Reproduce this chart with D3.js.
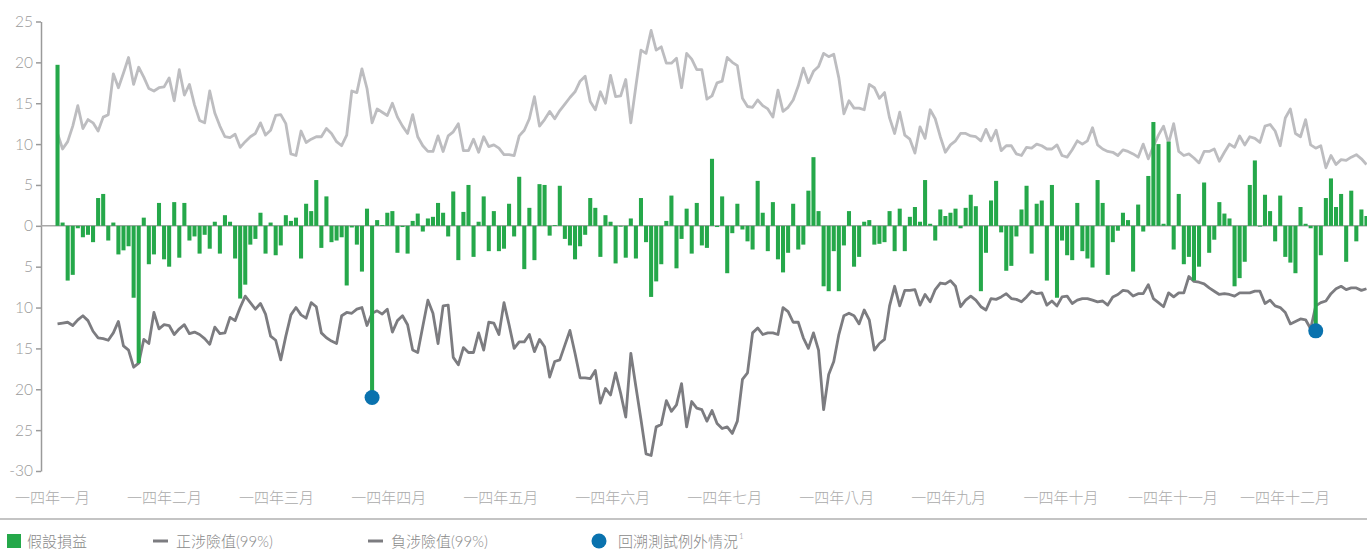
<!DOCTYPE html>
<html><head><meta charset="utf-8">
<script src="https://cdn.jsdelivr.net/npm/d3@7"></script>
<style>
html,body{margin:0;padding:0;background:#fff;}
svg{display:block;font-family:"Lato","Noto Sans CJK TC","Noto Sans",sans-serif;font-weight:300;}
</style></head>
<body><svg id="c" width="1367" height="550"></svg>
<script>
// ---- data ----
const months = ["一四年一月","一四年二月","一四年三月","一四年四月","一四年五月","一四年六月","一四年七月","一四年八月","一四年九月","一四年十月","一四年十一月","一四年十二月"];
const yTicks = [25,20,15,10,5,0,-5,-10,-15,-20,-25,-30];
const yTickLabels = ["25","20","15","10","5","0","5","10","15","20","25","-30"];
const pnl = [19.7,0.4,-6.7,-6.0,-0.3,-1.4,-1.1,-2.0,3.4,3.9,-1.8,0.4,-3.5,-3.0,-2.5,-8.8,-16.8,1.0,-4.7,-3.5,
2.8,-4.1,-5.0,2.9,-3.9,2.8,-1.8,-1.3,-3.4,-1.1,-2.8,0.5,-3.4,1.3,0.5,-4.0,-8.9,-7.2,-2.3,-1.6,
1.6,-3.4,0.4,-3.6,-2.4,1.3,0.6,1.0,-4.0,2.7,1.8,5.6,-2.7,3.6,-2.0,-1.8,-1.4,-7.3,-0.2,-2.3,
-5.6,2.1,-21.0,0.7,0.1,1.6,1.8,-3.3,-0.15,-3.4,0.6,1.5,-0.7,0.9,1.1,2.8,1.6,-1.3,4.2,-4.2,
1.7,5.0,-3.8,0.5,3.6,-3.1,1.8,-3.1,-2.8,2.7,-1.3,6.0,-5.3,2.2,-4.2,5.1,5.0,-1.2,0.1,4.9,
-1.6,-2.4,-4.1,-2.5,-1.1,3.4,2.2,-3.8,1.3,0.5,-4.6,-0.1,-3.9,0.9,-4.0,3.4,-2.0,-8.7,-6.8,-4.7,
0.6,3.7,-5.2,-1.6,2.1,-3.4,2.8,-2.4,-2.7,8.2,-0.15,3.6,-5.8,-0.9,2.7,-0.45,-1.9,-2.9,5.5,1.6,
-3.1,2.9,-4.1,-5.7,-3.3,2.7,-2.9,-2.3,4.3,8.4,1.8,-7.4,-8.0,-3.1,-8.0,-2.4,1.8,-5.0,-3.8,0.5,
0.7,-2.3,-2.2,-2.0,1.8,-3.1,2.1,-3.1,1.1,2.3,0.5,5.6,0.25,-1.8,2.0,1.2,1.6,2.1,-0.3,2.2,
3.8,2.4,-8.0,-3.3,3.1,5.5,-0.8,-5.5,-4.9,-1.3,2.0,4.9,-3.4,2.7,3.1,-6.7,5.0,-8.8,-1.8,-3.6,
-4.2,2.8,-3.1,-4.0,-5.1,5.6,2.8,-6.0,-2.0,-0.6,1.6,0.7,-5.6,2.6,-0.7,6.1,12.7,10.0,0.25,10.3,
-2.9,3.9,-4.7,-3.8,-6.7,-5.0,5.3,-3.3,-1.7,2.9,1.5,0.9,-7.4,-6.4,-4.4,5.0,8.0,-0.1,3.8,1.8,
-1.9,3.7,-3.8,-4.5,-5.8,2.3,0.25,-0.3,-12.85,-3.6,3.4,5.8,2.3,3.9,-4.4,4.3,-1.9,2.0,1.2];
const posVaR = [11.3,9.4,10.3,12.2,14.7,11.9,13.0,12.6,11.6,13.3,13.6,18.6,16.9,18.7,20.6,17.3,19.4,18.2,16.8,16.5,
16.9,17.0,18.1,15.3,19.1,16.0,17.3,14.8,12.9,12.6,16.5,13.8,12.2,10.9,10.8,11.2,9.6,10.3,10.9,11.3,
12.6,11.1,11.7,13.5,13.6,12.5,8.8,8.6,11.6,10.2,10.6,10.9,10.9,11.9,11.3,10.3,9.8,11.1,16.5,16.3,
19.2,16.8,12.6,14.3,13.9,13.5,15.0,13.3,12.2,11.3,13.6,10.9,9.8,9.1,9.1,11.0,9.1,11.0,11.5,12.5,
9.2,9.2,10.6,9.0,10.9,9.7,9.9,9.5,8.7,8.7,8.6,11.0,11.7,13.1,15.8,12.2,13.0,14.0,13.1,14.1,
14.9,15.7,16.4,17.7,18.3,15.2,14.2,16.4,15.0,18.4,15.8,15.9,17.9,12.6,17.1,21.5,21.1,23.9,21.5,21.9,
19.9,19.9,20.5,16.9,21.1,20.4,19.1,19.1,15.5,15.9,17.5,17.7,20.6,20.0,19.6,15.6,14.6,14.5,15.4,14.7,
14.3,13.3,16.6,14.0,14.5,15.4,17.1,19.3,17.5,18.9,19.5,21.1,20.7,21.0,18.1,13.7,15.3,14.4,14.4,14.2,
17.3,16.9,15.6,16.3,13.2,11.3,13.9,11.1,10.6,8.9,12.1,10.7,14.2,13.1,10.9,9.0,9.9,10.4,11.3,11.3,
11.0,10.9,10.4,11.8,10.4,11.7,9.2,9.8,9.8,8.8,8.6,9.6,9.5,10.0,9.8,9.4,9.4,9.9,8.6,8.4,
9.3,10.4,10.0,10.4,12.0,9.9,9.4,9.1,9.0,8.6,9.3,9.1,8.8,8.4,10.0,8.2,9.7,11.1,12.2,10.1,
12.5,9.1,8.6,8.8,8.3,7.7,9.1,9.1,9.4,7.9,9.0,10.0,9.6,11.0,9.9,10.9,10.7,10.2,12.2,12.4,
11.6,9.8,13.2,14.3,11.3,10.9,13.0,9.9,9.5,9.8,7.1,8.6,7.5,8.1,8.0,8.4,8.7,8.2,7.5];
const negVaR = [-12.0,-11.9,-11.8,-12.2,-11.5,-11.0,-11.6,-12.9,-13.7,-13.8,-14.0,-13.1,-11.7,-14.7,-15.2,-17.3,-16.8,-13.9,-14.4,-10.6,
-12.6,-12.1,-12.2,-13.3,-12.6,-12.1,-13.2,-13.0,-13.3,-13.8,-14.5,-12.4,-13.2,-13.1,-11.2,-11.6,-10.0,-8.6,-9.4,-10.2,
-9.5,-10.8,-13.5,-14.0,-16.4,-13.5,-10.9,-10.0,-10.9,-11.3,-9.4,-9.9,-13.1,-13.7,-14.1,-14.4,-11.0,-10.6,-10.7,-10.2,
-10.0,-12.2,-10.7,-10.4,-10.8,-10.2,-13.0,-11.6,-11.0,-12.1,-15.2,-15.5,-12.3,-9.1,-10.7,-14.4,-9.8,-9.7,-16.1,-17.0,
-14.9,-15.5,-15.5,-13.1,-15.2,-11.8,-11.9,-13.3,-9.4,-12.1,-15.0,-14.2,-14.2,-13.3,-15.4,-13.9,-14.8,-18.5,-16.6,-16.4,
-14.6,-12.8,-15.6,-18.6,-18.6,-18.7,-17.7,-21.7,-19.9,-20.7,-18.0,-20.5,-23.4,-15.6,-19.7,-23.7,-27.9,-28.1,-24.6,-24.3,
-21.4,-22.7,-21.9,-19.3,-24.6,-21.5,-22.3,-22.5,-23.9,-22.6,-24.2,-24.8,-24.6,-25.4,-23.9,-18.8,-18.0,-13.1,-12.5,-13.3,
-13.1,-13.1,-13.3,-10.0,-10.5,-11.8,-11.8,-13.7,-15.0,-13.1,-15.2,-22.5,-18.2,-16.6,-13.3,-11.0,-10.7,-11.0,-12.0,-10.3,
-11.5,-15.2,-14.4,-13.9,-9.8,-7.4,-9.8,-7.9,-7.9,-7.8,-9.7,-8.4,-9.3,-7.8,-7.0,-7.1,-6.7,-7.4,-9.9,-9.1,
-8.6,-9.1,-9.9,-10.3,-8.9,-9.0,-8.7,-8.3,-8.9,-9.0,-9.3,-8.7,-8.0,-8.3,-8.2,-9.7,-9.2,-9.8,-8.7,-8.6,
-9.5,-9.1,-8.9,-8.9,-9.1,-9.3,-9.2,-9.7,-8.7,-8.4,-7.9,-8.0,-8.6,-8.3,-8.3,-7.2,-8.9,-9.4,-9.9,-8.2,
-8.7,-8.2,-8.2,-6.2,-6.8,-6.9,-7.1,-7.6,-8.0,-8.4,-8.3,-8.4,-8.6,-8.2,-8.2,-8.2,-8.0,-8.0,-9.5,-9.1,
-9.8,-10.0,-10.6,-12.0,-11.7,-11.4,-11.5,-12.6,-9.8,-9.4,-9.2,-8.3,-7.7,-7.4,-7.8,-7.6,-7.6,-7.9,-7.7];
const exceptionDays = [62, 248];
const legendLabels = ["假設損益","正涉險值(99%)","負涉險值(99%)","回溯測試例外情況"];

// ---- chart ----
const svg = d3.select("#c");
const colGreen = "#25a84a", colPos = "#bdbdc0", colNeg = "#7c7c80", colBlue = "#0a72ae", colText = "#9a9a9a";
const n = pnl.length;
const y = d3.scaleLinear().domain([-30, 25]).range([471, 21.5]);
const x = d3.scaleBand().domain(d3.range(n)).range([55.5, 1368.5]).paddingInner(0.2).paddingOuter(0);
const cx = i => x(i) + x.bandwidth() / 2;

// y axis
const yAxis = d3.axisLeft(y).tickValues(yTicks).tickFormat((d, i) => yTickLabels[i]).tickSize(5).tickSizeOuter(0).tickPadding(3);
const ga = svg.append("g").attr("transform", "translate(41,0)").call(yAxis);
ga.select(".domain").attr("stroke", "#9a9a9a").attr("stroke-width", 1.5);
ga.selectAll(".tick line").attr("stroke", "#9a9a9a").attr("stroke-width", 1.5);
ga.selectAll(".tick text").attr("fill", colText).style("font-size", "15.5px").style("font-family", "Lato, sans-serif").style("font-weight", 300);

// zero line
svg.append("line").attr("x1", 41).attr("x2", 1367).attr("y1", y(0)).attr("y2", y(0))
  .attr("stroke", "#a8a8a8").attr("stroke-width", 1.5);

// lines
const line = d3.line().x((d, i) => cx(i)).y(d => y(d));
svg.append("path").datum(posVaR).attr("d", line).attr("fill", "none").attr("stroke", colPos).attr("stroke-width", 2.8).attr("stroke-linejoin", "round");
svg.append("path").datum(negVaR).attr("d", line).attr("fill", "none").attr("stroke", colNeg).attr("stroke-width", 2.8).attr("stroke-linejoin", "round");

// bars
svg.append("g").selectAll("rect").data(pnl).join("rect")
  .attr("x", (d, i) => x(i)).attr("width", x.bandwidth())
  .attr("y", d => y(Math.max(0, d))).attr("height", d => Math.abs(y(d) - y(0)))
  .attr("fill", colGreen);

// exceptions
svg.append("g").selectAll("circle").data(exceptionDays).join("circle")
  .attr("cx", i => cx(i)).attr("cy", i => y(pnl[i])).attr("r", 7.5).attr("fill", colBlue);

// month labels
const xm = d3.scalePoint().domain(months).range([52.5, 1285]);
svg.append("g").selectAll("text").data(months).join("text")
  .attr("x", d => xm(d)).attr("y", 503).attr("text-anchor", "middle")
  .attr("fill", "#aaaaaa").style("font-size", "15px").text(d => d);

// separator
svg.append("line").attr("x1", 0).attr("x2", 1367).attr("y1", 519).attr("y2", 519).attr("stroke", "#c4c4c4").attr("stroke-width", 2);

// legend
const lg = svg.append("g").style("font-size", "15px");
lg.append("rect").attr("x", 7).attr("y", 534).attr("width", 14).attr("height", 14).attr("fill", colGreen);
lg.append("line").attr("x1", 153).attr("x2", 168).attr("y1", 541).attr("y2", 541).attr("stroke", colNeg).attr("stroke-width", 3);
lg.append("line").attr("x1", 368).attr("x2", 383).attr("y1", 541).attr("y2", 541).attr("stroke", colNeg).attr("stroke-width", 3);
lg.append("circle").attr("cx", 599).attr("cy", 541).attr("r", 7.5).attr("fill", colBlue);
const lx = [27, 176, 391, 618];
lg.selectAll("text.l").data(legendLabels).join("text").attr("class", "l")
  .attr("x", (d, i) => lx[i]).attr("y", 547).attr("fill", "#8a8a8a").text(d => d);
lg.append("text").attr("x", 618 + 8 * 15 + 1).attr("y", 539).attr("fill", "#8a8a8a").style("font-size", "8px").text("1");
</script></body></html>
